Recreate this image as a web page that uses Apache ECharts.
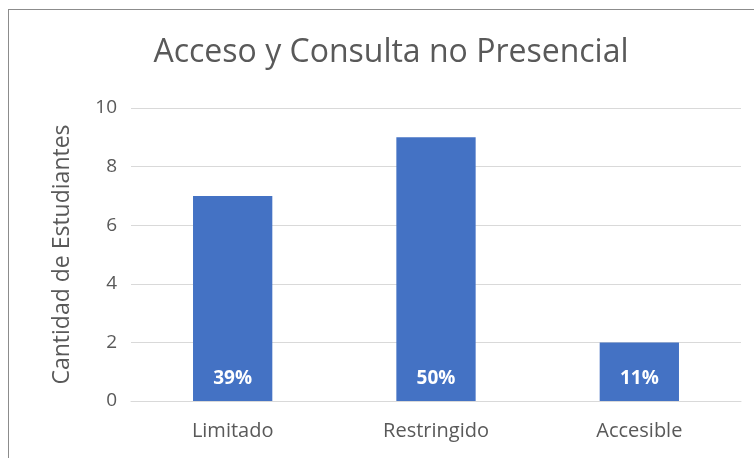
<!DOCTYPE html>
<html>
<head>
<meta charset="utf-8">
<script src="https://cdn.jsdelivr.net/npm/echarts@6/dist/echarts.min.js"></script>
<style>
  html, body { margin: 0; padding: 0; background: #fff; overflow: hidden; }
  .frame {
    position: absolute;
    left: 8px;
    top: 9px;
    width: 780px;
    height: 480px;
    border: 1px solid #8c8c8c;
    box-sizing: border-box;
  }
  #chart { position: absolute; left: 0; top: 0; width: 754px; height: 458px; }
</style>
</head>
<body>
<div class="frame"></div>
<div id="chart"></div>
<script>
const categories = ['Limitado', 'Restringido', 'Accesible']
const studentCounts = [7, 9, 2]
const percentLabels = ['39%', '50%', '11%']

const chart = echarts.init(document.getElementById('chart'))
const font = '"Open Sans", "Noto Sans", sans-serif'

chart.setOption({
  animation: false,
  title: {
    text: 'Acceso y Consulta no Presencial',
    left: 386,
    top: 32,
    textAlign: 'center',
    textStyle: { fontFamily: font, fontSize: 32, fontWeight: 'normal', color: '#595959' }
  },
  grid: { left: 131, right: 13, top: 108, bottom: 57 },
  xAxis: {
    type: 'category',
    data: categories,
    axisLine: { lineStyle: { color: '#d9d9d9' } },
    axisTick: { show: false },
    axisLabel: { fontFamily: font, fontSize: 20, color: '#595959', margin: 20 }
  },
  yAxis: {
    type: 'value',
    min: 0,
    max: 10,
    interval: 2,
    name: 'Cantidad de Estudiantes',
    nameLocation: 'middle',
    nameGap: 57,
    nameTextStyle: { fontFamily: font, fontSize: 23, color: '#595959' },
    axisLine: { show: false },
    axisTick: { show: false },
    axisLabel: { fontFamily: font, fontSize: 19, color: '#595959', margin: 14 },
    splitLine: { lineStyle: { color: '#d9d9d9', width: 1 } }
  },
  series: [
    {
      type: 'bar',
      data: studentCounts,
      barWidth: '39%',
      itemStyle: { color: '#4472C4' },
      label: {
        show: true,
        position: 'insideBottom',
        distance: 13,
        fontFamily: font,
        fontSize: 19,
        fontWeight: 'bold',
        color: '#fff',
        formatter: (p) => percentLabels[p.dataIndex]
      }
    }
  ]
})
</script>
</body>
</html>
